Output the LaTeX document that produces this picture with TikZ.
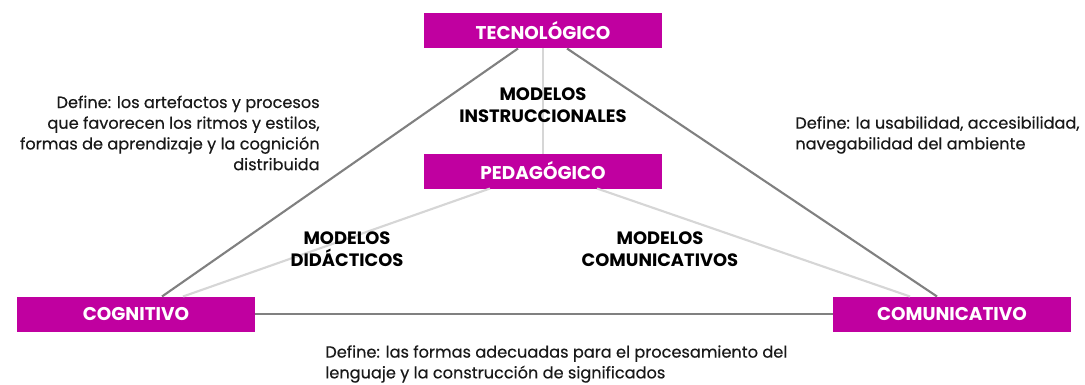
\documentclass[tikz,border=0pt]{standalone}
\usepackage{fontspec}
\setmainfont{Poppins}
\newfontfamily\deffont{Poppins}[FakeBold=0.35]
\definecolor{mag}{RGB}{192,0,160}
\definecolor{darkline}{RGB}{128,128,128}
\definecolor{lightline}{RGB}{214,214,214}
\definecolor{deftext}{RGB}{25,25,25}
\begin{document}
\begin{tikzpicture}[x=0.02cm,y=-0.02cm,
  boxnode/.style={fill=mag,draw=none,minimum width=238*0.02cm,minimum height=35*0.02cm,inner sep=0pt,text=white,font=\fontsize{10.5}{12}\selectfont\bfseries},
  modelnode/.style={align=center,font=\fontsize{10.2}{12.2}\selectfont\bfseries,inner sep=0pt},
  defnode/.style={font=\fontsize{9.2}{11.8}\deffont\selectfont,inner sep=0pt,text=deftext},
  darkedge/.style={draw=darkline,line width=1.2pt},
  lightedge/.style={draw=lightline,line width=1.2pt}]
\useasboundingbox[fill=white] (0,0) rectangle (1085,385);
% nodes
\node[boxnode] (tec) at (543,31) {TECNOLÓGICO};
\node[boxnode] (ped) at (543,171) {PEDAGÓGICO};
\node[boxnode] (cog) at (136,314) {COGNITIVO};
\node[boxnode] (com) at (952,314) {COMUNICATIVO};
% anchor coordinates
\coordinate (tecL) at (518,48.5);
\coordinate (tecR) at (567,48.5);
\coordinate (tecB) at (543,48.5);
\coordinate (pedT) at (543,153.5);
\coordinate (pedL) at (490,188.5);
\coordinate (pedR) at (597,188.5);
\coordinate (cogT1) at (162,296.5);
\coordinate (cogT2) at (183,296.5);
\coordinate (comT1) at (937,296.5);
\coordinate (comT2) at (910,296.5);
% connectors
\draw[lightedge] (tecB) -- (pedT);
\draw[lightedge] (pedL) -- (cogT2);
\draw[lightedge] (pedR) -- (comT2);
\draw[darkedge] (tecL) -- (cogT1);
\draw[darkedge] (tecR) -- (comT1);
\draw[darkedge] (cog.east) -- (com.west);
% labels
\node[modelnode] (mi) at (543,105) {MODELOS\\INSTRUCCIONALES};
\node[modelnode] (md) at (347,249) {MODELOS\\DIDÁCTICOS};
\node[modelnode] (mc) at (660,249) {MODELOS\\COMUNICATIVOS};
\node[defnode,align=right,anchor=east] (dl) at (320,133) {Define: los artefactos y procesos\\que favorecen los ritmos y estilos,\\formas de aprendizaje y la cognición\\distribuida};
\node[defnode,align=left,anchor=west] (dr) at (795,135) {Define: la usabilidad, accesibilidad,\\navegabilidad del ambiente};
\node[defnode,align=left,anchor=west] (db) at (325,364) {Define: las formas adecuadas para el procesamiento del\\lenguaje y la construcción de significados};
\end{tikzpicture}
\end{document}
